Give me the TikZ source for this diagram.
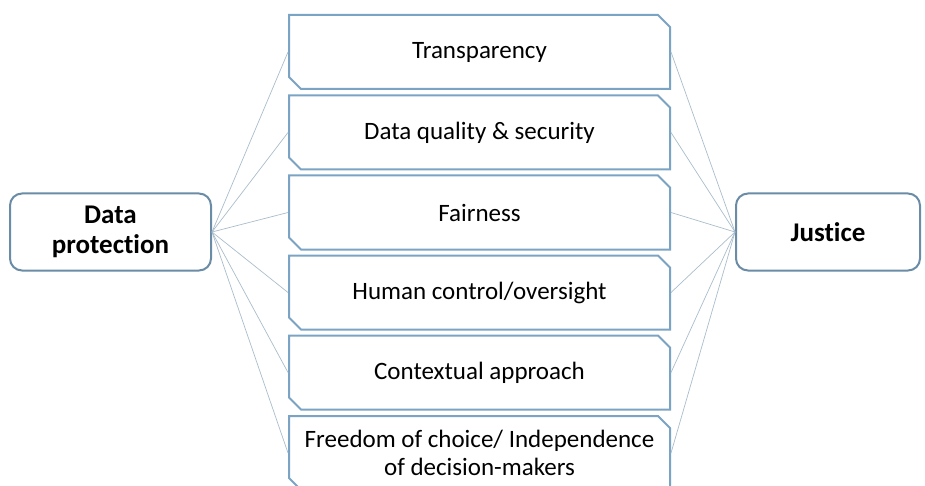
\documentclass[tikz,border=0pt]{standalone}
\usepackage{fontspec}
\setmainfont{Carlito}[Ligatures={NoCommon,NoRare}]
\usetikzlibrary{shapes.misc}

\definecolor{boxblue}{HTML}{7BA3C3}
\definecolor{endblue}{HTML}{6A8CA6}
\definecolor{linkblue}{HTML}{A9BDCB}

\begin{document}
\begin{tikzpicture}[
            x=1pt, y=-1pt,
            every node/.style={font=\fontsize{25}{28}\selectfont, align=center},
            item/.style={draw=boxblue, line width=2pt, fill=white,
                chamfered rectangle,
                chamfered rectangle corners={north east, south west},
                chamfered rectangle xsep=6pt, chamfered rectangle ysep=6pt,
                minimum width=381pt, minimum height=74pt, inner sep=0pt},
            side/.style={draw=endblue, line width=2pt, rounded corners=12pt,
                font=\bfseries\fontsize{27}{30}\selectfont, minimum height=77pt},
            link/.style={draw=linkblue, line width=0.7pt},
            ]
            \useasboundingbox (0,0) rectangle (925,486);
            % the two end boxes
            \node[side, minimum width=201pt] (dp) at (110.5, 232) {Data\\protection};
            \node[side, minimum width=184pt] (just) at (828, 232) {Justice};
            % the principles in between
            \node[item] (transp)  at (479.5, 52)    {Transparency};
            \node[item] (quality) at (479.5, 132.5) {Data quality \& security};
            \node[item] (fair)    at (479.5, 212.5) {Fairness};
            \node[item] (control) at (479.5, 292.5) {Human control/oversight};
            \node[item] (context) at (479.5, 372.5) {Contextual approach};
            \node[item] (freedom) at (479.5, 453)   {Freedom of choice/ Independence\\of decision-makers};
            % fan of links on both sides
            \foreach \p in {transp, quality, fair, control, context, freedom} {
                \draw[link] (dp.east) -- (\p.west);
                \draw[link] (\p.east) -- (just.west);
            }
        \end{tikzpicture}
\end{document}
